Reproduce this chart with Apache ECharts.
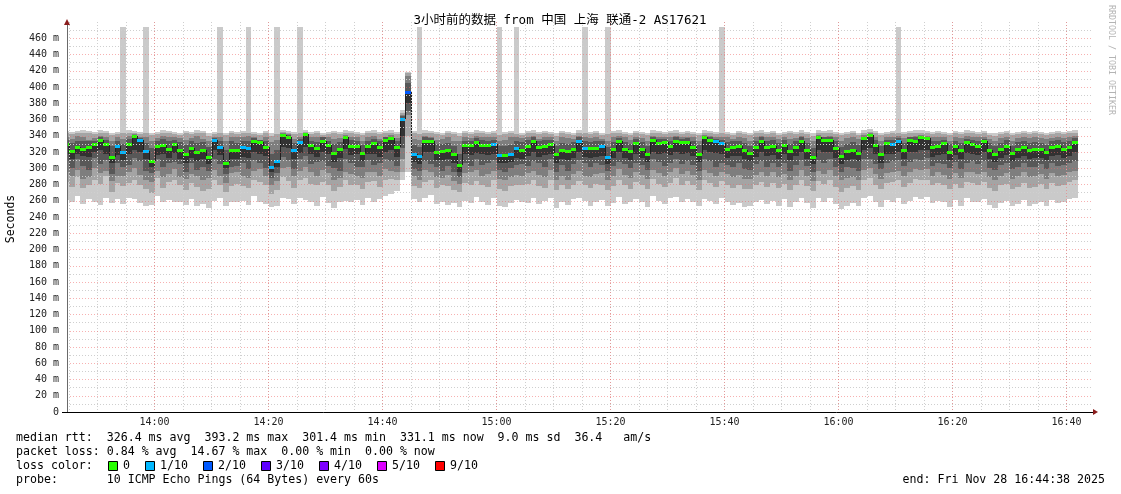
<!DOCTYPE html>
<html><head><meta charset="utf-8">
<script src="https://cdn.jsdelivr.net/npm/echarts@6/dist/echarts.min.js"></script>
<style>html,body{margin:0;padding:0;background:#fff}#c{width:1121px;height:494px}</style>
</head><body><div id="c"></div>
<script>
// ---- data (one value per 60 s step, first step starts 13:44:00) ----
const median = [
330,321,326,324,326,330,335,330,314,327, 320,330,340,335,321,309,328,329,324,330,
323,318,325,320,322,314,335,326,307,323, 323,326,325,333,332,326,302,309,341,339,
322,332,342,329,325,334,329,319,324,339, 328,328,319,328,331,326,335,337,326,361,
394,318,315,334,333,320,321,322,317,304, 329,329,332,329,329,330,316,316,318,325,
323,328,334,326,328,330,317,322,321,324, 334,325,325,325,327,314,324,333,324,321,
331,324,318,335,331,332,328,334,332,332, 326,318,339,335,333,331,324,326,327,322,
319,326,334,326,328,323,329,321,326,334, 323,314,339,335,335,325,315,321,323,319,
337,341,329,317,331,330,333,323,335,334, 338,337,326,328,331,320,328,322,332,330,
328,333,323,318,324,328,319,324,326,323, 324,324,320,326,328,324,326,332];
const ping10 = [
346,345,346,347,346,345,347,346,344,345, 346,347,346,345,346,344,345,347,346,345,
344,346,345,347,346,343,345,346,344,346, 345,346,347,345,344,346,343,345,347,346,
345,346,347,345,346,344,345,346,345,347, 346,345,344,346,347,345,346,347,345,372,
419,346,345,347,346,345,344,346,345,343, 346,345,347,346,345,346,344,345,346,345,
344,346,347,345,346,345,343,346,345,344, 347,346,345,346,344,345,346,347,345,344,
346,345,344,347,346,345,346,347,345,346, 345,344,347,346,345,346,345,344,346,345,
344,346,347,345,346,344,345,346,345,347, 345,343,347,346,347,345,344,345,346,344,
347,348,346,344,345,346,347,345,346,347, 347,346,345,346,345,344,346,345,347,346,
345,346,344,343,345,346,344,345,346,345, 346,345,344,345,346,345,346,347];
const ping9 = [
343,342,344,344,343,342,344,343,341,342, 343,344,344,342,343,341,342,344,343,342,
341,343,342,344,343,340,342,343,341,343, 342,343,344,342,341,343,340,342,345,344,
342,343,345,342,343,341,342,343,342,344, 343,342,341,343,344,342,343,344,342,368,
417,343,342,344,343,342,341,343,342,340, 343,342,344,343,342,343,341,342,343,342,
341,343,344,342,343,342,340,343,342,341, 344,343,342,343,341,342,343,344,342,341,
343,342,341,344,343,342,343,344,342,343, 342,341,344,343,342,343,342,341,343,342,
341,343,344,342,343,341,342,343,342,344, 342,340,344,343,344,342,341,342,343,341,
344,345,343,341,342,343,344,342,343,344, 344,343,342,343,342,341,343,342,344,343,
342,343,341,340,342,343,341,342,343,342, 343,342,341,342,343,342,343,344];
const ping8 = [
339,336,340,338,335,337,340,339,334,338, 336,340,342,338,339,333,337,340,339,338,
337,335,337,340,336,333,339,338,334,339, 338,339,340,338,335,339,332,335,343,342,
336,339,344,338,339,337,338,336,337,341, 339,338,334,339,340,336,339,341,337,366,
414,336,335,340,339,335,336,338,334,333, 339,337,340,339,338,339,334,335,338,338,
337,339,340,336,339,338,333,338,337,336, 340,339,337,338,336,333,338,340,338,335,
339,337,334,340,339,338,339,340,338,339, 338,334,341,340,338,339,338,336,339,337,
334,338,340,338,339,336,338,336,337,340, 337,333,341,339,340,338,334,337,338,336,
341,343,339,334,338,339,340,337,339,340, 341,340,338,339,338,334,339,337,340,339,
338,339,336,333,337,339,334,337,338,337, 338,337,336,337,338,337,338,340];
const ping7 = [
335,331,334,333,333,334,338,335,328,333, 330,336,341,337,331,325,333,336,333,335,
332,329,333,331,332,326,337,333,322,333, 331,334,333,337,335,334,318,323,342,341,
331,336,343,334,332,338,334,330,332,340, 335,334,329,334,336,333,338,339,333,364,
405,329,326,338,337,330,330,331,328,318, 334,334,337,335,333,335,328,327,329,333,
332,335,338,333,335,335,327,331,330,332, 338,333,332,333,333,326,332,337,332,330,
336,332,328,338,336,336,334,338,336,337, 333,329,340,338,336,335,332,333,334,331,
328,333,338,333,335,331,335,330,333,338, 331,325,340,338,338,333,326,330,332,329,
339,342,335,327,335,335,337,331,338,338, 340,339,333,334,335,330,334,331,336,335,
334,336,331,327,331,335,328,332,333,331, 332,331,329,333,335,332,333,337];
const ping5 = [
318,312,317,315,314,320,322,318,306,316, 310,318,322,320,311,302,316,318,313,319,
312,306,313,309,311,305,322,316,300,312, 312,314,313,320,318,315,296,301,326,325,
311,319,326,318,314,320,317,308,313,324, 316,317,309,317,318,314,320,322,314,340,
380,308,305,320,320,310,310,311,306,296, 317,316,319,317,316,318,306,306,308,313,
312,315,320,314,316,318,307,311,310,313, 320,314,313,314,315,305,313,320,313,310,
318,313,308,320,318,319,316,320,318,319, 315,308,323,320,319,318,313,315,315,311,
309,314,320,315,316,312,317,310,315,320, 312,305,322,320,320,313,305,310,312,309,
322,325,317,307,318,318,320,312,320,320, 322,322,314,316,318,310,316,311,319,318,
316,320,312,308,313,316,309,313,315,312, 313,313,310,315,316,313,315,320];
const ping4 = [
309,300,311,303,298,313,305,310,293,306, 302,304,313,309,297,294,311,301,306,308,
305,296,306,298,301,297,312,305,293,301, 303,307,299,310,306,300,288,294,314,310,
299,311,315,305,308,309,303,300,297,312, 306,302,301,310,304,307,311,309,303,325,
370,299,297,309,305,302,297,303,296,289, 307,303,311,304,306,310,298,295,300,304,
305,303,309,306,302,311,296,304,297,305, 310,306,301,307,304,297,303,308,305,300,
306,304,298,311,308,303,307,312,305,309, 304,297,311,309,302,307,304,301,306,299,
298,305,309,301,307,302,306,297,304,310, 303,295,310,307,311,301,296,302,300,297,
311,312,305,299,306,309,310,303,308,311, 310,313,303,307,305,300,308,299,307,309,
305,309,300,298,304,306,299,302,307,301, 302,305,299,306,303,304,307,309];
const ping3 = [
296,291,298,287,289,300,294,297,284,290, 291,296,300,292,286,283,297,289,293,299,
289,287,293,291,285,288,298,291,282,294, 295,290,288,297,299,291,279,284,300,302,
290,297,302,296,291,298,294,286,288,296, 293,291,288,296,295,290,299,297,295,312,
366,290,285,298,296,289,288,292,284,281, 294,295,298,291,293,297,287,286,289,292,
290,294,297,292,289,298,286,291,285,293, 297,291,289,293,294,285,290,299,292,288,
296,292,287,298,294,290,295,300,293,297, 292,286,298,294,290,296,293,289,292,287,
287,292,296,290,295,289,293,286,291,298, 291,284,297,293,298,290,285,288,289,286,
298,300,293,287,294,296,297,290,295,299, 298,299,291,295,292,287,294,288,296,295,
293,296,289,285,291,294,287,290,295,289, 290,293,287,294,291,292,295,297];
const ping2 = [
283,277,289,276,280,286,281,290,271,282, 278,282,286,279,274,270,288,276,283,285,
279,273,282,277,272,275,285,280,271,278, 281,278,276,286,283,280,268,273,289,284,
276,285,288,281,279,283,280,272,277,285, 280,279,275,283,284,277,286,287,285,296,
340,278,276,283,285,276,279,278,273,271, 282,280,284,279,277,286,275,272,278,280,
279,281,286,278,276,285,273,279,274,280, 284,279,276,281,280,273,278,286,279,275,
283,280,274,287,281,277,282,288,280,284, 279,273,285,282,277,284,280,276,279,274,
275,280,283,277,282,276,281,273,279,285, 278,272,284,281,285,277,271,276,278,273,
285,288,280,274,282,283,286,277,282,287, 285,286,279,282,280,274,281,276,283,282,
280,283,276,272,279,281,274,277,282,276, 277,281,274,282,278,279,283,285];
const ping1 = [
261,258,266,256,262,259,255,264,257,262, 256,263,262,257,253,255,266,258,261,259,
259,255,262,254,256,251,260,263,253,258, 258,260,255,266,259,256,252,254,264,262,
256,263,261,259,254,265,257,251,258,260, 258,261,255,263,259,262,266,268,272,286,
296,262,258,264,267,256,259,255,257,252, 260,257,265,258,255,263,254,252,257,261,
259,257,263,256,260,264,251,258,255,262, 263,260,254,259,261,253,257,265,256,258,
262,259,252,266,260,256,263,265,258,262, 258,253,262,260,256,263,259,255,257,252,
254,259,261,256,260,253,262,252,258,264, 257,251,263,259,264,256,250,254,257,253,
263,266,259,252,261,258,264,256,260,265, 262,265,257,260,258,252,261,254,263,259,
258,262,255,251,257,260,253,256,261,254, 256,259,253,261,257,258,262,264];
// steps whose median is drawn in the 1/10 and 2/10 loss colours
const lossOneSteps = [9,10,13,14,26,27,31,32,36,37,40,41,59,61,62,75,76,78,79,90,91,94,95,114,115,145,146];
const lossTwoSteps = [60];
// steps with a lost ping (smoke reaches the top)
const lossBarSteps = [10,14,27,32,37,41,62,76,79,91,95,115,146];
const LOSS_BAR_TOP = 474;
const yTicksMax = 480;
const lossLegend = [['0','#26ff00'],['1/10','#00b8ff'],['2/10','#0059ff'],['3/10','#5e00ff'],['4/10','#7e00ff'],['5/10','#dd00ff'],['9/10','#ff0000']];
const LOSS_COLORS = ['#26ff00','#00b8ff','#0059ff'];
const titleText = '3小时前的数据 from 中国 上海 联通-2 AS17621';
const statLine1 = 'median rtt:  326.4 ms avg  393.2 ms max  301.4 ms min  331.1 ms now  9.0 ms sd  36.4   am/s';
const statLine2 = 'packet loss: 0.84 % avg  14.67 % max  0.00 % min  0.00 % now';
const probeLine = 'probe:       10 ICMP Echo Pings (64 Bytes) every 60s';
const endLine = 'end: Fri Nov 28 16:44:38 2025';

const START = Date.UTC(2025,10,28,13,44,38);
const END = Date.UTC(2025,10,28,16,44,38);
const FIRST_STEP = Date.UTC(2025,10,28,13,44,0);
const STEP = 60000;
const MIN20 = 1200000;

const data = median.map((m, i) => {
  let loss = 0;
  if (lossOneSteps.includes(i)) loss = 1;
  if (lossTwoSteps.includes(i)) loss = 2;
  return [FIRST_STEP + i*STEP, FIRST_STEP + (i+1)*STEP,
    ping1[i], ping2[i], ping3[i], ping4[i], ping5[i], m, ping7[i], ping8[i], ping9[i], ping10[i],
    m, loss, lossBarSteps.includes(i) ? 1 : 0, i > 0 ? median[i-1] : -1];
});

const BANDS = [[1,10,'#cacaca'],[2,9,'#a4a4a4'],[3,8,'#7e7e7e'],[4,7,'#585858'],[5,6,'#323232']];
function renderSmoke(params, api) {
  const t0 = api.value(0), t1 = api.value(1);
  const x0 = Math.round(api.coord([t0, 0])[0]);
  const x1 = Math.round(api.coord([t1, 0])[0]);
  const children = [];
  BANDS.forEach((b, bi) => {
    const lo = api.value(1 + b[0]);
    let hi = api.value(1 + b[1]);
    if (bi === 0 && api.value(14) === 1) hi = LOSS_BAR_TOP;
    const yLo = Math.round(api.coord([t0, lo])[1]);
    const yHi = Math.round(api.coord([t0, hi])[1]);
    children.push({type:'rect', shape:{x:x0, y:yHi, width:x1-x0, height:Math.max(1, yLo-yHi)}, style:{fill:b[2]}});
  });
  return {type:'group', children};
}
function renderMedian(params, api) {
  const t0 = api.value(0), t1 = api.value(1);
  const x0 = Math.round(api.coord([t0, 0])[0]);
  const x1 = Math.round(api.coord([t1, 0])[0]);
  const y = Math.round(api.coord([t0, api.value(12)])[1]);
  const children = [];
  const prev = api.value(15);
  if (prev > 0) {
    const yp = Math.round(api.coord([t0, prev])[1]);
    children.push({type:'line', shape:{x1:x0+0.5, y1:yp, x2:x0+0.5, y2:y}, style:{stroke:'#202020', lineWidth:1}});
  }
  children.push({type:'rect', shape:{x:x0, y:y-1, width:x1-x0, height:3}, style:{fill:LOSS_COLORS[api.value(13)]}});
  return {type:'group', children};
}

const MONO = '"DejaVu Sans Mono", monospace';
const gridLeft = 67, gridTop = 22, gridRight = 28, gridBottom = 82;
const graphic = [];
graphic.push({type:'text', x:560, y:21, style:{text:titleText, fontFamily:'"DejaVu Sans Mono","Noto Sans CJK SC",monospace', fontSize:12.5, fill:'#000', align:'center', verticalAlign:'middle'}});
graphic.push({type:'text', x:1111, y:5, rotation:-Math.PI/2, style:{text:'RRDTOOL / TOBI OETIKER', fontFamily:MONO, fontSize:8.3, fill:'#b4b4b4', align:'left', verticalAlign:'middle'}});
graphic.push({type:'text', x:11, y:219, rotation:Math.PI/2, style:{text:'Seconds', fontFamily:MONO, fontSize:11.5, fill:'#000', align:'center', verticalAlign:'middle'}});
[[statLine1,438],[statLine2,452],['loss color:',466],[probeLine,480]].forEach(([t,y]) => {
  graphic.push({type:'text', x:16, y:y, style:{text:t, fontFamily:MONO, fontSize:11.6, fill:'#000', align:'left', verticalAlign:'middle'}});
});
graphic.push({type:'text', x:1105, y:480, style:{text:endLine, fontFamily:MONO, fontSize:11.6, fill:'#000', align:'right', verticalAlign:'middle'}});
const sqX = [108,145,203,261,319,377,435];
lossLegend.forEach(([lab,col], i) => {
  graphic.push({type:'rect', shape:{x:sqX[i]+0.5, y:461.5, width:9, height:9}, style:{fill:col, stroke:'#000', lineWidth:1}});
  graphic.push({type:'text', x:sqX[i]+15, y:466, style:{text:lab, fontFamily:MONO, fontSize:11.6, fill:'#000', align:'left', verticalAlign:'middle'}});
});
// axis arrows and left stub of the x axis
graphic.push({type:'polygon', shape:{points:[[64,25],[70,25],[67,19]]}, style:{fill:'#8a1c1c'}, z:20});
graphic.push({type:'polygon', shape:{points:[[1093,409],[1093,415],[1098,412]]}, style:{fill:'#8a1c1c'}, z:20});
graphic.push({type:'line', shape:{x1:62, y1:412.5, x2:67, y2:412.5}, style:{stroke:'#000', lineWidth:1}, z:20});

const chart = echarts.init(document.getElementById('c'), null, {renderer:'canvas'});
const minorGrid = {show:true, lineStyle:{color:'#cfcfcf', type:[1,2], width:1}};
const majorGrid = {show:true, showMinLine:false, showMaxLine:false, lineStyle:{color:'rgba(240,100,100,0.5)', type:[1,2], width:1}};
chart.setOption({
  useUTC: true,
  animation: false,
  backgroundColor: '#fff',
  grid: {left:gridLeft, top:gridTop, right:gridRight, bottom:gridBottom},
  xAxis: [
    {type:'time', position:'bottom', min:START, max:END, splitNumber:33, minInterval:330000, maxInterval:330000, z:5,
     axisLine:{show:false}, axisTick:{show:false}, axisLabel:{show:false},
     splitLine:{show:true, showMinLine:false, showMaxLine:false, lineStyle:{color:'#cfcfcf', type:[1,2], width:1}}},
    {type:'time', position:'bottom', min:START, max:END, splitNumber:9, minInterval:1230000, maxInterval:1230000, z:6,
     axisLine:{show:true, onZero:false, lineStyle:{color:'#000', width:1}},
     axisTick:{show:false},
     axisLabel:{fontFamily:MONO, fontSize:10, color:'#222', margin:5,
       formatter: v => (v % MIN20 === 0) ? echarts.time.format(v, '{HH}:{mm}', true) : ''},
     splitLine:majorGrid}
  ],
  yAxis: {type:'value', min:0, max:yTicksMax, interval:20, z:6,
    axisLine:{show:true, lineStyle:{color:'#6a6a6a', width:1}},
    axisTick:{show:false},
    axisLabel:{fontFamily:MONO, fontSize:10, color:'#222', margin:8,
      formatter: v => v === 0 ? '0' : (v > 460 ? '' : v + ' m')},
    splitLine:majorGrid,
    minorTick:{show:false, splitNumber:2},
    minorSplitLine:minorGrid},
  series: [
    {type:'custom', name:'smoke', xAxisIndex:1, renderItem:renderSmoke, data:data, clip:true, z:1,
     encode:{x:0, y:12}, silent:true},
    {type:'custom', name:'median', xAxisIndex:1, renderItem:renderMedian, data:data, clip:true, z:2,
     encode:{x:0, y:12}, silent:true}
  ],
  graphic: graphic
});
</script></body></html>
